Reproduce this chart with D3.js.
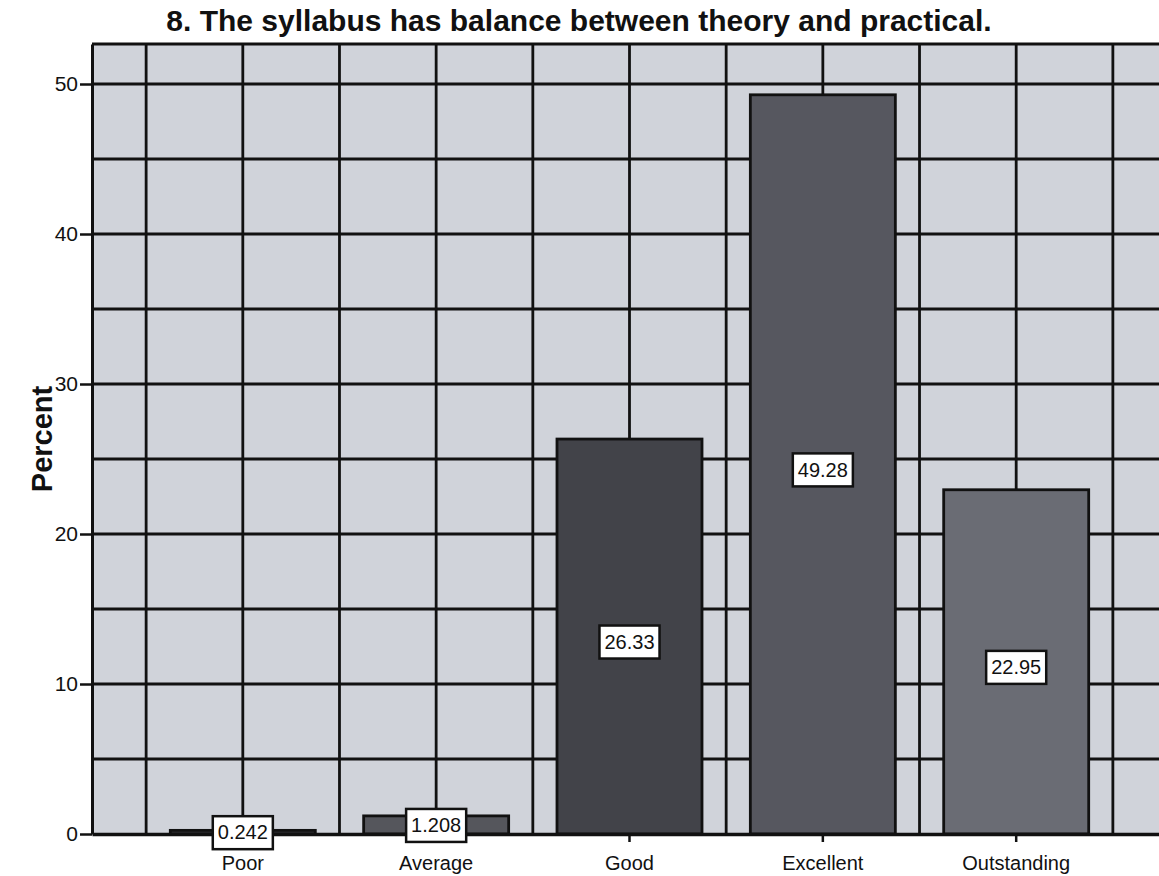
<!DOCTYPE html>
<html>
<head>
<meta charset="utf-8">
<script src="https://cdn.jsdelivr.net/npm/d3@7"></script>
<style>
body{margin:0;background:#fff;}
text{font-family:"Liberation Sans",Arial,sans-serif;fill:#111;}
</style>
</head>
<body>
<script>
//DATA
var categories=["Poor","Average","Good","Excellent","Outstanding"];
var percents=[0.242,1.208,26.33,49.28,22.95];
var valueLabels=["0.242","1.208","26.33","49.28","22.95"];
var yTicks=[0,10,20,30,40,50];
var gridValues=[5,10,15,20,25,30,35,40,45,50];
var barColors=["#3a3b40","#55565c","#424349","#56575f","#6a6c74"];

//CANVAS VARIABLES
var svg_width=1159;
var svg_height=876;
var plotLeft=92,plotRight=1167,plotTop=44,plotBottom=834;

var svg=d3.select("body")
.append("svg")
.attr("width",svg_width)
.attr("height",svg_height);

var x=d3.scaleBand()
.domain(categories)
.range([plotLeft,plotRight])
.paddingInner(0.25)
.paddingOuter(0.405);

var y=d3.scaleLinear()
.domain([0,50+(40/15)])
.range([plotBottom,plotTop]);

//PLOT BACKGROUND
svg.append("rect")
.attr("x",plotLeft)
.attr("y",plotTop)
.attr("width",plotRight-plotLeft)
.attr("height",plotBottom-plotTop)
.attr("fill","#d0d3da");

//GRID
var step=x.step();
var vlines=[];
categories.forEach(function(c,i){
    var cx=x(c)+x.bandwidth()/2;
    vlines.push(cx-step/2);
    vlines.push(cx);
});
vlines.push(x(categories[4])+x.bandwidth()/2+step/2);

svg.selectAll(".hgrid")
.data(gridValues)
.enter()
.append("line")
.attr("class","hgrid")
.attr("x1",plotLeft)
.attr("x2",plotRight)
.attr("y1",function(d){return y(d)})
.attr("y2",function(d){return y(d)})
.attr("stroke","#111")
.attr("stroke-width",2.8);

svg.selectAll(".vgrid")
.data(vlines)
.enter()
.append("line")
.attr("class","vgrid")
.attr("x1",function(d){return d})
.attr("x2",function(d){return d})
.attr("y1",plotTop)
.attr("y2",plotBottom)
.attr("stroke","#111")
.attr("stroke-width",2.8);

//FRAME
svg.append("line")
.attr("x1",plotLeft).attr("x2",plotRight)
.attr("y1",plotTop).attr("y2",plotTop)
.attr("stroke","#111").attr("stroke-width",3);

//BARS
svg.selectAll(".bar")
.data(percents)
.enter()
.append("rect")
.attr("class","bar")
.attr("x",function(d,i){return x(categories[i])})
.attr("y",function(d){return y(d)})
.attr("width",x.bandwidth())
.attr("height",function(d){return y(0)-y(d)})
.attr("fill",function(d,i){return barColors[i]})
.attr("stroke","#111")
.attr("stroke-width",2.8);

//AXES
var yAxis=svg.append("g")
.attr("transform","translate("+plotLeft+",0)")
.call(d3.axisLeft(y).tickValues(yTicks).tickSize(12).tickSizeOuter(0).tickPadding(2));
yAxis.select(".domain").attr("stroke","#111").attr("stroke-width",3);
yAxis.selectAll(".tick line").attr("stroke","#111").attr("stroke-width",2.5);
yAxis.selectAll(".tick text").attr("font-size","21px").style("font-family","'Liberation Sans',Arial,sans-serif").attr("fill","#111");

var xAxis=svg.append("g")
.attr("transform","translate(0,"+plotBottom+")")
.call(d3.axisBottom(x).tickSize(8).tickSizeOuter(0).tickPadding(14));
xAxis.select(".domain").attr("stroke","#111").attr("stroke-width",3.5);
xAxis.selectAll(".tick line").attr("stroke","#111").attr("stroke-width",2.5);
xAxis.selectAll(".tick text").attr("font-size","20px").style("font-family","'Liberation Sans',Arial,sans-serif").attr("fill","#111");

//VALUE LABELS
var labels=svg.selectAll(".vlabel")
.data(percents)
.enter()
.append("g")
.attr("class","vlabel")
.attr("transform",function(d,i){
    var off=d>10?5:0;
    return "translate("+(x(categories[i])+x.bandwidth()/2)+","+(y(d/2)+off)+")";
});

labels.append("text")
.attr("text-anchor","middle")
.attr("dy","0.36em")
.attr("font-size","20px")
.text(function(d,i){return valueLabels[i]});

labels.each(function(){
    var g=d3.select(this);
    var bb=g.select("text").node().getBBox();
    g.insert("rect","text")
    .attr("x",bb.x-5)
    .attr("y",-16)
    .attr("width",bb.width+10)
    .attr("height",33)
    .attr("fill","#fff")
    .attr("stroke","#111")
    .attr("stroke-width",2.5);
});

//TITLE
svg.append("text")
.attr("x",579)
.attr("y",31)
.attr("text-anchor","middle")
.attr("font-size","30px")
.attr("font-weight","bold")
.text("8. The syllabus has balance between theory and practical.");

svg.append("text")
.attr("transform","translate(52,439) rotate(-90)")
.attr("text-anchor","middle")
.attr("font-size","29px")
.attr("font-weight","bold")
.text("Percent");
</script>
</body>
</html>
